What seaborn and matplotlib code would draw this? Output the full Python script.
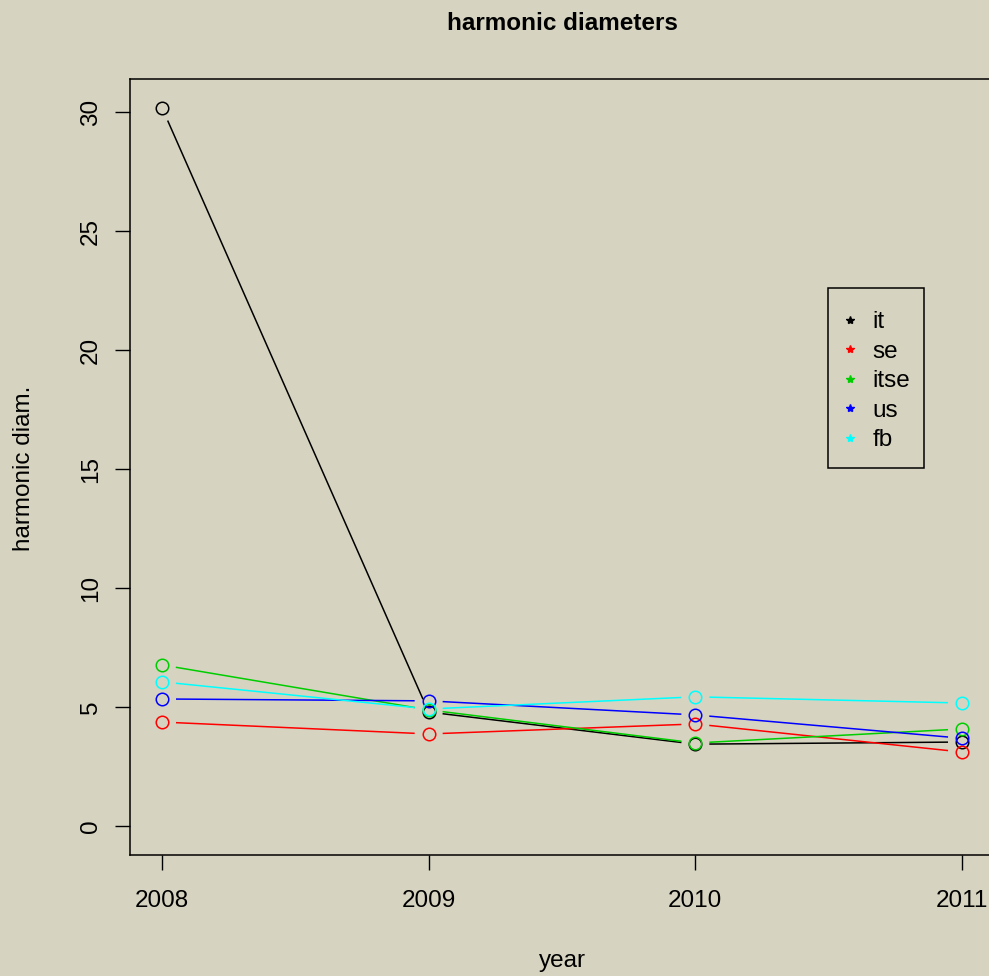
import matplotlib
matplotlib.use('Agg')
import matplotlib.pyplot as plt
from matplotlib.lines import Line2D
from matplotlib.patches import Rectangle
import seaborn as sns
import numpy as np
import pandas as pd

# values
years = [2008, 2009, 2010, 2011]
it = [30.2, 4.80, 3.45, 3.54]
se = [4.38, 3.88, 4.30, 3.12]
itse = [6.78, 4.89, 3.50, 4.09]
us = [5.35, 5.27, 4.68, 3.70]
fb = [6.07, 4.93, 5.44, 5.18]

series = ['it', 'se', 'itse', 'us', 'fb']
colors = ['black', 'red', '#00cd00', 'blue', 'cyan']

df = pd.DataFrame({'year': years, 'it': it, 'se': se, 'itse': itse, 'us': us, 'fb': fb})

bg = '#d6d4c0'
sns.set_style('white')
plt.rcParams['font.family'] = ['Liberation Sans', 'DejaVu Sans']
plt.rcParams['text.color'] = 'black'
plt.rcParams['xtick.color'] = 'black'
plt.rcParams['ytick.color'] = 'black'

W, H, DPI = 989, 976, 100
fig = plt.figure(figsize=(W / DPI, H / DPI), dpi=DPI)
fig.patch.set_facecolor(bg)

# axes box (R style, right side runs past the canvas)
ax = fig.add_axes([130 / W, (H - 855) / H, (994 - 130) / W, (855 - 79) / H])
ax.set_facecolor(bg)

# R's 4% padding
xr = years[-1] - years[0]
ax.set_xlim(years[0] - 0.04 * xr, years[-1] + 0.04 * xr)
ymax = max(it)
ax.set_ylim(-0.04 * ymax, ymax * 1.04)

# type="b": points with lines that stop short of them
gap = 14  # pixels
to_data = ax.transData.inverted()
for name, c in zip(series, colors):
    vals = df[name].values
    for i in range(len(years) - 1):
        p0 = ax.transData.transform((years[i], vals[i]))
        p1 = ax.transData.transform((years[i + 1], vals[i + 1]))
        d = p1 - p0
        L = np.hypot(*d)
        if L <= 2 * gap:
            continue
        q0 = to_data.transform(p0 + d / L * gap)
        q1 = to_data.transform(p1 - d / L * gap)
        ax.plot([q0[0], q1[0]], [q0[1], q1[1]], color=c, lw=1.1, solid_capstyle='butt')
    sns.lineplot(data=df, x='year', y=name, ax=ax, linestyle='', marker='o',
                 markersize=9, markerfacecolor='none', markeredgecolor=c,
                 markeredgewidth=1.1, color=c)

for s in ax.spines.values():
    s.set_color('black')
    s.set_linewidth(1.1)

ax.set_xticks(years)
ax.set_yticks(np.arange(0, 31, 5))
ax.tick_params(axis='both', direction='out', length=11, width=1.0, color='black',
               labelcolor='black', labelsize=17.5, bottom=True, left=True)
ax.tick_params(axis='x', pad=14)
ax.tick_params(axis='y', labelrotation=90, pad=9)
for lab in ax.get_yticklabels():
    lab.set_va('center')
ax.set_xlabel('')
ax.set_ylabel('')

fig.text(562 / W, 1 - 24 / H, 'harmonic diameters', ha='center', va='center',
         fontsize=17.5, fontweight='bold')
fig.text(562 / W, 1 - 961 / H, 'year', ha='center', va='center', fontsize=17.5)
fig.text(24 / W, 1 - 468 / H, 'harmonic diam.', ha='center', va='center',
         fontsize=17.5, rotation=90)

# legend box drawn separately so its margins can differ from the entries
fig.patches.append(Rectangle((828 / W, 1 - 468 / H), (924 - 828) / W, (468 - 288) / H,
                             transform=fig.transFigure, facecolor='none',
                             edgecolor='black', linewidth=1.1))
handles = [Line2D([], [], linestyle='', marker='*', markersize=6, color=c) for c in colors]
fig.legend(handles, series, loc='upper left',
           bbox_to_anchor=(840 / W, 1 - 311 / H), bbox_transform=fig.transFigure,
           frameon=False, fontsize=17.5, borderaxespad=0, borderpad=0,
           labelspacing=0.31, handlelength=0.82, handletextpad=0.53)

fig.savefig('out.png', dpi=DPI, facecolor=bg)
